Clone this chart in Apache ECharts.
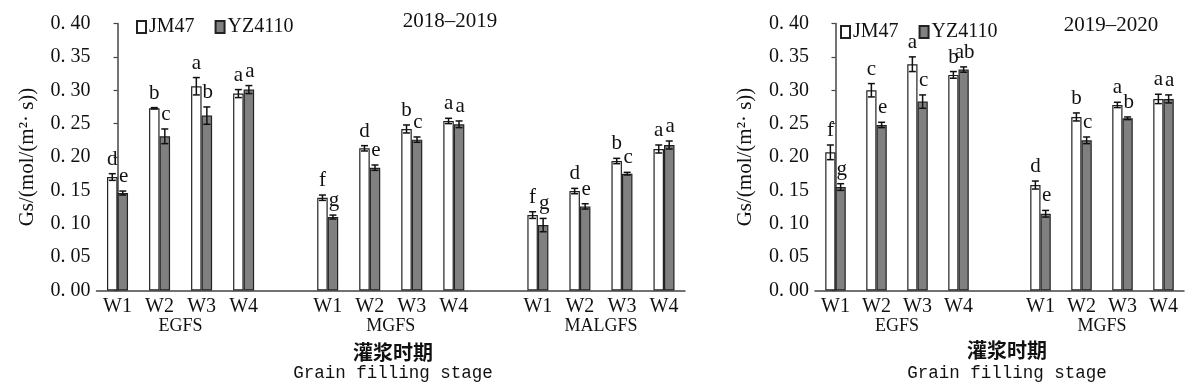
<!DOCTYPE html>
<html>
<head>
<meta charset="utf-8">
<script src="https://cdn.jsdelivr.net/npm/echarts@6/dist/echarts.min.js"></script>
<style>html,body{margin:0;padding:0;background:#fff}#c{width:1200px;height:387px}</style>
</head>
<body>
<div id="c"></div>
<script>
// ---------- data ----------
const weeks = ['W1', 'W2', 'W3', 'W4'];
const stages1819 = ['EGFS', 'MGFS', 'MALGFS'];
const stages1920 = ['EGFS', 'MGFS'];
const seriesNames = ['JM47', 'YZ4110'];
const yTicks = [0, 0.4, 0.05];

// 2018-2019 (EGFS W1-W4, MGFS W1-W4, MALGFS W1-W4)
const jm1819 = [0.170, 0.273, 0.306, 0.295, 0.139, 0.213, 0.242, 0.254, 0.113, 0.149, 0.194, 0.212];
const yz1819 = [0.146, 0.231, 0.262, 0.301, 0.110, 0.184, 0.226, 0.249, 0.098, 0.126, 0.175, 0.218];
const jmErr1819 = [0.005, 0.001, 0.013, 0.006, 0.004, 0.004, 0.006, 0.004, 0.005, 0.004, 0.004, 0.006];
const yzErr1819 = [0.003, 0.011, 0.013, 0.006, 0.003, 0.004, 0.004, 0.005, 0.010, 0.004, 0.002, 0.006];
const jmSig1819 = ['d', 'b', 'a', 'a', 'f', 'd', 'b', 'a', 'f', 'd', 'b', 'a'];
const yzSig1819 = ['e', 'c', 'b', 'a', 'g', 'e', 'c', 'a', 'g', 'e', 'c', 'a'];

// 2019-2020 (EGFS W1-W4, MGFS W1-W4)
const jm1920 = [0.207, 0.300, 0.339, 0.323, 0.158, 0.260, 0.278, 0.287];
const yz1920 = [0.155, 0.248, 0.283, 0.331, 0.115, 0.225, 0.258, 0.287];
const jmErr1920 = [0.011, 0.010, 0.011, 0.005, 0.006, 0.006, 0.004, 0.007];
const yzErr1920 = [0.005, 0.004, 0.010, 0.004, 0.005, 0.005, 0.002, 0.006];
const jmSig1920 = ['f', 'c', 'a', 'b', 'd', 'b', 'a', 'a'];
const yzSig1920 = ['g', 'e', 'c', 'ab', 'e', 'c', 'b', 'a'];

// ---------- helpers ----------
const SERIF = 'Liberation Serif';
function makeCats(nStages) {
  const a = [];
  for (let g = 0; g < nStages; g++) { if (g > 0) a.push(''); a.push(...weeks); }
  return a;
}
function withGaps(arr) {
  const r = [];
  arr.forEach((v, i) => { if (i > 0 && i % 4 === 0) r.push('-'); r.push(v); });
  return r;
}
function errData(vals, errs) {
  return vals.map((v, i) => [i + Math.floor(i / 4), v, errs[i]]);
}
function errSeries(vals, errs, sigs, side, xi, yi) {
  return {
    type: 'custom', xAxisIndex: xi, yAxisIndex: yi, z: 5, silent: true,
    data: errData(vals, errs),
    renderItem: function (params, api) {
      const x = api.value(0), v = api.value(1), e = api.value(2);
      const slot = api.size([1, 0])[0];
      const off = slot * 0.125 * side;
      const top = api.coord([x, v + e]);
      const bot = api.coord([x, v - e]);
      const cx = top[0] + off;
      const cw = 3.5;
      const st = { stroke: '#111', lineWidth: 1.5 };
      return {
        type: 'group',
        children: [
          { type: 'line', shape: { x1: cx, y1: top[1], x2: cx, y2: bot[1] }, style: st },
          { type: 'line', shape: { x1: cx - cw, y1: top[1], x2: cx + cw, y2: top[1] }, style: st },
          { type: 'line', shape: { x1: cx - cw, y1: bot[1], x2: cx + cw, y2: bot[1] }, style: st },
          { type: 'text', x: cx + (side > 0 ? 1 : 0), y: top[1] - 4,
            style: { text: sigs[params.dataIndex], fill: '#111', font: '21px ' + SERIF,
                     align: 'center', verticalAlign: 'bottom' } }
        ]
      };
    }
  };
}
function barSeries(name, vals, xi, yi, fill) {
  return {
    name: name, type: 'bar', xAxisIndex: xi, yAxisIndex: yi,
    data: withGaps(vals), barWidth: '25%', barGap: '0%',
    itemStyle: { color: fill, borderColor: '#222', borderWidth: 1.2 }
  };
}
function yAxisDef(gi) {
  return {
    type: 'value', gridIndex: gi, min: yTicks[0], max: yTicks[1], interval: yTicks[2],
    name: 'Gs/(mol/(m²· s))', nameLocation: 'middle', nameGap: 59,
    nameTextStyle: { fontFamily: SERIF, fontSize: 21, color: '#111' },
    axisLine: { show: true, lineStyle: { color: '#444', width: 1.5 } },
    axisTick: { show: true, inside: false, length: 4, lineStyle: { color: '#444', width: 1.2 } },
    splitLine: { show: false },
    axisLabel: { margin: 6, fontFamily: SERIF, fontSize: 20, color: '#111',
                 formatter: v => v.toFixed(2).replace('.', '. ') }
  };
}
function catAxisDef(gi, nStages) {
  return {
    type: 'category', gridIndex: gi, data: makeCats(nStages),
    axisLine: { show: true, lineStyle: { color: '#444', width: 1.5 } },
    axisTick: { show: false },
    axisLabel: { margin: 6, interval: 0, fontFamily: SERIF, fontSize: 20, color: '#111' }
  };
}
function stageAxisDef(gi, stages) {
  const n = stages.length * 5 - 1;
  return {
    type: 'value', gridIndex: gi, position: 'bottom', min: -0.5, max: n - 0.5,
    axisLine: { show: false }, axisTick: { show: false }, splitLine: { show: false },
    axisLabel: {
      customValues: stages.map((s, g) => g * 5 + 1.5), margin: 27,
      fontFamily: SERIF, fontSize: 18, color: '#111',
      formatter: v => stages[Math.round((v - 1.5) / 5)]
    }
  };
}

const chart = echarts.init(document.getElementById('c'), null, { renderer: 'canvas' });
const legendBase = {
  data: seriesNames, icon: 'rect', itemWidth: 9, itemHeight: 12, itemGap: 20,
  textStyle: { fontFamily: SERIF, fontSize: 20, color: '#111', padding: [0, 0, 0, -2] },
  selectedMode: false
};
chart.setOption({
  animation: false,
  backgroundColor: '#fff',
  grid: [
    { left: 96.5, top: 23.5, width: 588.5, height: 267 },
    { left: 815, top: 23.5, width: 369, height: 267 }
  ],
  legend: [
    Object.assign({ left: 131, top: 12 }, legendBase),
    Object.assign({ left: 835, top: 17 }, legendBase)
  ],
  xAxis: [
    catAxisDef(0, stages1819.length), stageAxisDef(0, stages1819),
    catAxisDef(1, stages1920.length), stageAxisDef(1, stages1920)
  ],
  yAxis: [yAxisDef(0), yAxisDef(1)],
  series: [
    barSeries(seriesNames[0], jm1819, 0, 0, '#ffffff'),
    barSeries(seriesNames[1], yz1819, 0, 0, '#808080'),
    errSeries(jm1819, jmErr1819, jmSig1819, -1, 0, 0),
    errSeries(yz1819, yzErr1819, yzSig1819, 1, 0, 0),
    barSeries(seriesNames[0], jm1920, 2, 1, '#ffffff'),
    barSeries(seriesNames[1], yz1920, 2, 1, '#808080'),
    errSeries(jm1920, jmErr1920, jmSig1920, -1, 2, 1),
    errSeries(yz1920, yzErr1920, yzSig1920, 1, 2, 1)
  ],
  graphic: [
    { type: 'text', x: 450, y: 21, style: { text: '2018–2019', font: '21px ' + SERIF, fill: '#111', align: 'center', verticalAlign: 'middle' } },
    { type: 'text', x: 1111, y: 25, style: { text: '2019–2020', font: '21px ' + SERIF, fill: '#111', align: 'center', verticalAlign: 'middle' } },
    { type: 'text', x: 393, y: 352, style: { text: '灌浆时期', font: 'bold 20px "Noto Sans CJK SC"', fill: '#111', align: 'center', verticalAlign: 'middle' } },
    { type: 'text', x: 393, y: 373, style: { text: 'Grain filling stage', font: '17.5px "Liberation Mono"', fill: '#111', align: 'center', verticalAlign: 'middle' } },
    { type: 'text', x: 1007, y: 350, style: { text: '灌浆时期', font: 'bold 20px "Noto Sans CJK SC"', fill: '#111', align: 'center', verticalAlign: 'middle' } },
    { type: 'text', x: 1007, y: 373, style: { text: 'Grain filling stage', font: '17.5px "Liberation Mono"', fill: '#111', align: 'center', verticalAlign: 'middle' } }
  ]
});
</script>
</body>
</html>
